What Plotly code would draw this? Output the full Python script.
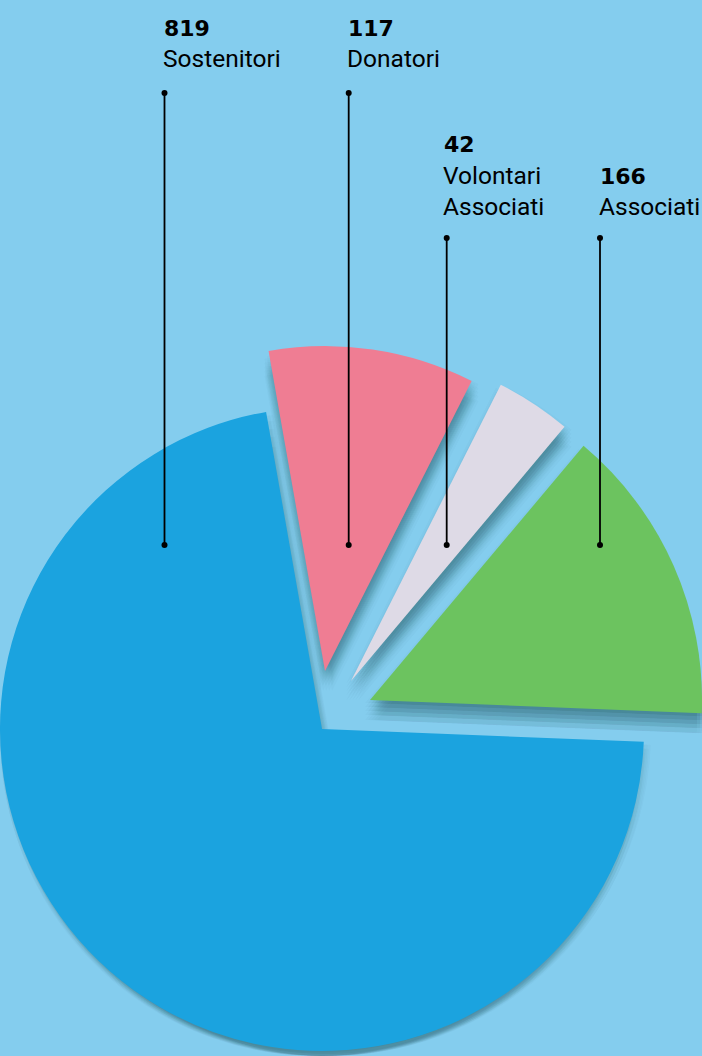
import plotly.graph_objects as go

W, H = 702, 1056

# ---------------- data ----------------
labels = ["Donatori", "Volontari Associati", "Associati", "Sostenitori"]
values = [117, 42, 166, 819]
label_lines = [["Donatori"], ["Volontari", "Associati"], ["Associati"], ["Sostenitori"]]
colors = ["#ef7d93", "#dedae6", "#6cc35f", "#1ba3df"]

# ---------------- style / layout ----------------
BG = "#84cdee"
ROTATION = -10
CLEAR = "rgba(0,0,0,0)"
SHADOW = "rgba(20,45,65,0.021)"

# per-slice wedge placement in px: (centre x, centre y, radius)
geom = {
    "Donatori": (325, 671, 325),
    "Volontari Associati": (351, 681, 332),
    "Associati": (370, 700, 332),
    "Sostenitori": (322, 729, 322),
}
# soft shadow kernel (px offsets)
shadow_offsets = [(dx, dy) for dx in (-5, -2, 1, 4, 7) for dy in (3, 7, 11, 15, 20)]

# label placement in px: left x, number baseline, first name baseline, leader x, leader top
label_pos = {
    "Sostenitori": (163, 35, 66, 164.5, 93),
    "Donatori": (347, 35, 66, 348.7, 93),
    "Volontari Associati": (443, 151, 183, 446.7, 238),
    "Associati": (599, 183, 214, 600, 238),
}
LEADER_BOTTOM = 545
LINE_GAP = 31


def clamp(v):
    return max(0.0, min(1.0, v))


def domain(cx, cy, r):
    rr = min(r, cx, W - cx, cy, H - cy)
    return dict(x=[clamp((cx - rr) / W), clamp((cx + rr) / W)],
                y=[clamp(1 - (cy + rr) / H), clamp(1 - (cy - rr) / H)])


def pie(cols, dom):
    return go.Pie(
        labels=labels, values=values, sort=False, direction="clockwise",
        rotation=ROTATION, marker=dict(colors=cols, line=dict(width=0)),
        textinfo="none", hoverinfo="skip", showlegend=False, domain=dom,
    )


fig = go.Figure()

# soft drop shadows
for i, lab in enumerate(labels):
    cx, cy, r = geom[lab]
    for dx, dy in shadow_offsets:
        cols = [CLEAR] * len(labels)
        cols[i] = SHADOW
        fig.add_trace(pie(cols, domain(cx + dx, cy + dy, r)))

# exploded slices
for i, lab in enumerate(labels):
    cx, cy, r = geom[lab]
    cols = [CLEAR] * len(labels)
    cols[i] = colors[i]
    fig.add_trace(pie(cols, domain(cx, cy, r)))


def px(x):
    return x / W


def py(y):
    return 1 - y / H


annotations = []
shapes = []
NUM_SIZE, NAME_SIZE = 22, 24.5
NUM_FONT = dict(family="DejaVu Sans", size=NUM_SIZE, color="#000000", weight="bold")
NAME_FONT = dict(family="Roboto", size=NAME_SIZE, color="#000000")
NUM_ASC = 0.928 * NUM_SIZE
NAME_ASC = 0.928 * NAME_SIZE

for i, lab in enumerate(labels):
    x0, nb, fb, lx, lt = label_pos[lab]
    annotations.append(dict(
        x=px(x0 - 1), y=py(nb - NUM_ASC - 1), xref="paper", yref="paper",
        xanchor="left", yanchor="top", showarrow=False,
        text=f"{values[i]}", font=NUM_FONT))
    for k, line in enumerate(label_lines[i]):
        b = fb + k * LINE_GAP
        annotations.append(dict(
            x=px(x0 - 2), y=py(b - NAME_ASC - 1), xref="paper", yref="paper",
            xanchor="left", yanchor="top", showarrow=False,
            text=line, font=NAME_FONT))
    shapes.append(dict(type="line", xref="paper", yref="paper",
                       x0=px(lx), x1=px(lx), y0=py(lt), y1=py(LEADER_BOTTOM),
                       line=dict(color="#000000", width=1.8)))
    for yy in (lt, LEADER_BOTTOM):
        shapes.append(dict(type="circle", xref="paper", yref="paper",
                           x0=px(lx - 3), x1=px(lx + 3), y0=py(yy + 3), y1=py(yy - 3),
                           fillcolor="#000000", line=dict(width=0)))

fig.update_layout(
    width=W, height=H, margin=dict(l=0, r=0, t=0, b=0),
    paper_bgcolor=BG, plot_bgcolor=BG,
    annotations=annotations, shapes=shapes, showlegend=False,
)

fig.write_html(
    "out.html",
    config={"displayModeBar": False, "staticPlot": True},
    post_script="document.body.style.margin='0';document.body.style.overflow='hidden';",
)
